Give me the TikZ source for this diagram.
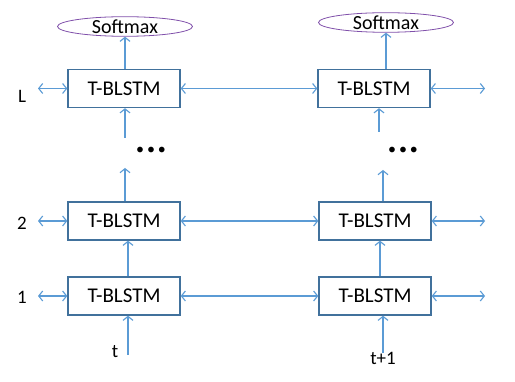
\documentclass[tikz,border=0pt]{standalone}
\usepackage{fontspec}
\setmainfont{Carlito}
\usetikzlibrary{arrows.meta,shapes.geometric}
\definecolor{bordeazul}{RGB}{65,113,156}
\definecolor{flechaazul}{RGB}{91,155,213}
\definecolor{lila}{RGB}{128,80,170}

\begin{document}
\begin{tikzpicture}[
    x=1pt, y=-1pt,
    >={Straight Barb[length=4pt,width=10pt]},
    bloque/.style={
        draw=bordeazul,
        line width=1.4pt,
        minimum width=112pt,
        minimum height=38pt,
        inner sep=0pt,
        font=\fontsize{21}{24}\selectfont
    },
    salida/.style={
        ellipse,
        draw=lila,
        line width=0.8pt,
        minimum width=135pt,
        minimum height=19pt,
        inner sep=0pt,
        font=\fontsize{20}{22}\selectfont
    },
    capa/.style={font=\fontsize{19}{22}\selectfont},
    puntos/.style={font=\fontsize{16}{20}\selectfont},
    flecha/.style={draw=flechaazul, line width=1.1pt}
]
    \useasboundingbox (0,0) rectangle (515,382);

    \node[bloque] (blstm-t-L) at (124,88.5) {T-BLSTM};
    \node[bloque] (blstm-t-2) at (124,221) {T-BLSTM};
    \node[bloque] (blstm-t-1) at (124,296) {T-BLSTM};
    \node[bloque] (blstm-t1-L) at (374,88.5) {T-BLSTM};
    \node[bloque] (blstm-t1-2) at (375,221) {T-BLSTM};
    \node[bloque] (blstm-t1-1) at (375,296) {T-BLSTM};

    \node[salida] (soft-t) at (125,26.5) {Softmax};
    \node[salida] (soft-t1) at (386,22.5) {Softmax};

    \node[capa] (capa-L) at (22,96) {L};
    \node[capa] (capa-2) at (22,223) {2};
    \node[capa] (capa-1) at (22,297) {1};
    \node[capa] (paso-t) at (115,352) {t};
    \node[capa] (paso-t1) at (383,358) {t+1};

    \node[puntos] (puntos-t) at (151,151) {•\hspace{3pt}•\hspace{3pt}•};
    \node[puntos] (puntos-t1) at (403,151) {•\hspace{3pt}•\hspace{3pt}•};

    \coordinate (izq) at (38,0);
    \coordinate (der) at (485,0);
    \coordinate (in-t) at (128,355);
    \coordinate (in-t1) at (383,353);
    \coordinate (eje-t1) at (380,0);
    \coordinate (sube-t-a) at (125,168);
    \coordinate (sube-t-b) at (125,138);
    \coordinate (sube-t1-a) at (383,170);
    \coordinate (sube-t1-b) at (379,132);

    \draw[flecha,->] (in-t) -- (in-t |- blstm-t-1.south);
    \draw[flecha,->] (in-t1) -- (in-t1 |- blstm-t1-1.south);
    \draw[flecha,->] (in-t |- blstm-t-1.north) -- (in-t |- blstm-t-2.south);
    \draw[flecha,->] (eje-t1 |- blstm-t1-1.north) -- (eje-t1 |- blstm-t1-2.south);
    \draw[flecha,->] (sube-t-a |- blstm-t-2.north) -- (sube-t-a);
    \draw[flecha,->] (sube-t1-a |- blstm-t1-2.north) -- (sube-t1-a);
    \draw[flecha,->] (sube-t-b) -- (sube-t-b |- blstm-t-L.south);
    \draw[flecha,->] (sube-t1-b) -- (sube-t1-b |- blstm-t1-L.south);
    \draw[flecha,->] (soft-t.south |- blstm-t-L.north) -- (soft-t.south);
    \draw[flecha,->] (soft-t1.south |- blstm-t1-L.north) -- (soft-t1.south);

    \foreach \f in {L,2,1} {
        \draw[flecha,<->] (blstm-t-\f.west -| izq) -- (blstm-t-\f.west);
        \draw[flecha,<->] (blstm-t-\f.east) -- (blstm-t1-\f.west);
        \draw[flecha,<->] (blstm-t1-\f.east) -- (blstm-t1-\f.east -| der);
    }
\end{tikzpicture}
\end{document}
